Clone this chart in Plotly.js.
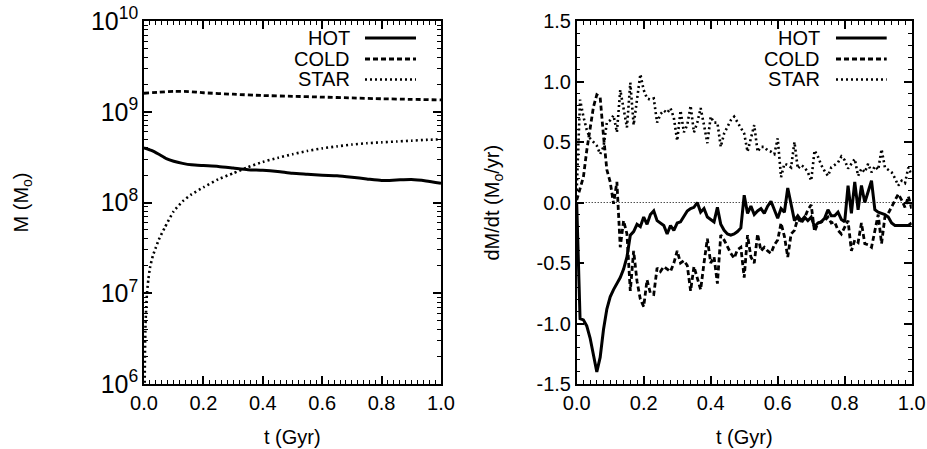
<!DOCTYPE html>
<html>
<head>
<meta charset="utf-8">
<script src="https://cdn.plot.ly/plotly-3.0.1.min.js"></script>
<style>html,body{margin:0;padding:0;background:#fff;}#chart{width:927px;height:449px;}</style>
</head>
<body>
<div id="chart"></div>
<script>
// ---- Left panel: mass vs time (log scale) ----
const tHot = [0, 0.025, 0.05, 0.075, 0.1, 0.13, 0.16, 0.2, 0.25, 0.3, 0.35, 0.4, 0.45, 0.5, 0.55, 0.6, 0.65, 0.7, 0.75, 0.8, 0.85, 0.9, 0.95, 1.0];
const massHot = [4.0e8, 3.75e8, 3.4e8, 3.05e8, 2.85e8, 2.7e8, 2.6e8, 2.55e8, 2.5e8, 2.4e8, 2.3e8, 2.27e8, 2.2e8, 2.1e8, 2.05e8, 2.0e8, 1.97e8, 1.9e8, 1.82e8, 1.75e8, 1.77e8, 1.79e8, 1.73e8, 1.63e8];
const tCold = [0, 0.05, 0.1, 0.15, 0.2, 0.3, 0.4, 0.5, 0.6, 0.7, 0.8, 0.9, 1.0];
const massCold = [1.6e9, 1.64e9, 1.68e9, 1.67e9, 1.62e9, 1.56e9, 1.51e9, 1.48e9, 1.45e9, 1.42e9, 1.39e9, 1.37e9, 1.35e9];
const tStar = [0.002, 0.0035, 0.005, 0.0075, 0.01, 0.015, 0.02, 0.03, 0.04, 0.05, 0.07, 0.1, 0.13, 0.16, 0.2, 0.25, 0.3, 0.35, 0.4, 0.45, 0.5, 0.55, 0.6, 0.65, 0.7, 0.75, 0.8, 0.85, 0.9, 0.95, 1.0];
const massStar = [8e5, 2.5e6, 4.5e6, 7e6, 1.0e7, 1.45e7, 1.9e7, 2.6e7, 3.2e7, 3.9e7, 5.3e7, 8.0e7, 1.03e8, 1.23e8, 1.47e8, 1.8e8, 2.1e8, 2.45e8, 2.8e8, 3.1e8, 3.4e8, 3.7e8, 3.95e8, 4.15e8, 4.35e8, 4.5e8, 4.6e8, 4.7e8, 4.8e8, 4.9e8, 4.97e8];

// ---- Right panel: dM/dt vs time ----
const tRate = [0.00,0.01,0.02,0.03,0.04,0.05,0.06,0.07,0.08,0.09,
  0.10,0.11,0.12,0.13,0.14,0.15,0.16,0.17,0.18,0.19,
  0.20,0.21,0.22,0.23,0.24,0.25,0.26,0.27,0.28,0.29,
  0.30,0.31,0.32,0.33,0.34,0.35,0.36,0.37,0.38,0.39,
  0.40,0.41,0.42,0.43,0.44,0.45,0.46,0.47,0.48,0.49,
  0.50,0.51,0.52,0.53,0.54,0.55,0.56,0.57,0.58,0.59,
  0.60,0.61,0.62,0.63,0.64,0.65,0.66,0.67,0.68,0.69,
  0.70,0.71,0.72,0.73,0.74,0.75,0.76,0.77,0.78,0.79,
  0.80,0.81,0.82,0.83,0.84,0.85,0.86,0.87,0.88,0.89,
  0.90,0.91,0.92,0.93,0.94,0.95,0.96,0.97,0.98,0.99,1.00];
const rateHot = [0.00,-0.96,-0.97,-1.02,-1.12,-1.25,-1.40,-1.28,-1.05,-0.88,
  -0.78,-0.72,-0.67,-0.62,-0.55,-0.45,-0.27,-0.24,-0.18,-0.20,
  -0.12,-0.18,-0.10,-0.07,-0.15,-0.17,-0.19,-0.26,-0.19,-0.23,
  -0.17,-0.16,-0.11,-0.07,-0.05,-0.04,0.00,-0.08,-0.05,-0.12,
  -0.14,-0.16,-0.04,-0.18,-0.23,-0.26,-0.27,-0.26,-0.24,-0.21,
  0.06,-0.09,-0.03,-0.10,-0.07,-0.05,-0.09,-0.03,0.01,-0.06,
  -0.13,-0.05,-0.08,0.12,-0.01,-0.15,-0.11,-0.15,-0.12,-0.15,
  -0.12,-0.20,-0.17,-0.16,-0.13,-0.06,-0.11,-0.11,-0.08,-0.14,
  -0.16,0.14,-0.09,0.17,-0.06,0.14,0.00,0.10,0.18,-0.06,
  -0.08,-0.09,-0.10,-0.12,-0.17,-0.19,-0.19,-0.19,-0.19,-0.19,-0.17];
const rateCold = [0.02,0.12,0.21,0.43,0.62,0.79,0.89,0.87,0.55,0.27,
  0.17,-0.01,0.17,-0.37,-0.15,-0.26,-0.73,-0.40,-0.65,-0.80,
  -0.86,-0.64,-0.75,-0.76,-0.54,-0.57,-0.53,-0.55,-0.57,-0.50,
  -0.40,-0.50,-0.48,-0.52,-0.73,-0.53,-0.62,-0.72,-0.50,-0.30,
  -0.50,-0.45,-0.67,-0.27,-0.31,-0.37,-0.42,-0.46,-0.39,-0.37,
  -0.62,-0.27,-0.45,-0.50,-0.26,-0.40,-0.37,-0.40,-0.42,-0.35,
  -0.31,-0.17,-0.28,-0.45,-0.26,-0.23,-0.13,-0.17,-0.13,-0.06,
  -0.02,-0.24,-0.17,-0.16,-0.15,-0.12,-0.17,-0.16,-0.23,-0.26,
  -0.20,-0.15,-0.40,-0.31,-0.33,-0.17,-0.34,-0.35,-0.37,-0.23,
  -0.10,-0.34,-0.12,-0.09,-0.04,0.02,0.07,0.02,-0.04,0.05,-0.05];
const rateStar = [0.10,0.85,0.71,0.60,0.53,0.50,0.47,0.40,0.46,0.66,
  0.68,0.72,0.58,0.93,0.76,0.62,0.99,0.64,0.85,1.06,
  0.93,0.86,0.85,0.86,0.66,0.73,0.76,0.74,0.78,0.70,
  0.51,0.76,0.58,0.64,0.80,0.58,0.66,0.78,0.64,0.49,
  0.71,0.66,0.66,0.46,0.57,0.62,0.68,0.71,0.66,0.61,
  0.57,0.42,0.54,0.64,0.42,0.46,0.46,0.43,0.42,0.40,
  0.53,0.21,0.32,0.31,0.29,0.50,0.28,0.31,0.29,0.25,
  0.18,0.43,0.38,0.31,0.26,0.22,0.29,0.31,0.33,0.38,
  0.35,0.28,0.32,0.36,0.22,0.28,0.25,0.32,0.25,0.30,
  0.27,0.44,0.29,0.27,0.25,0.20,0.14,0.18,0.16,0.29,0.23];

const seriesNames = ['HOT', 'COLD', 'STAR'];
const xTickLabels = ['0.0', '0.2', '0.4', '0.6', '0.8', '1.0'];
const xTickVals = [0, 0.2, 0.4, 0.6, 0.8, 1.0];
const rateTickVals = [-1.5, -1.0, -0.5, 0, 0.5, 1.0, 1.5];
const rateTickLabels = ['-1.5', '-1.0', '-0.5', '0.0', '0.5', '1.0', '1.5'];

const FONT = 'Liberation Sans, Arial, Helvetica, sans-serif';
const TITLEFONT = {family: FONT, size: 20, color: 'black'};
const styles = [
  {color: 'black', width: 3, dash: 'solid'},
  {color: 'black', width: 2.8, dash: '5px,3px'},
  {color: 'black', width: 2.6, dash: '2px,3px'}
];

const traces = [
  {x: tHot, y: massHot, xaxis: 'x', yaxis: 'y', mode: 'lines', line: Object.assign({shape: 'spline', smoothing: 0.6}, styles[0]), name: seriesNames[0], showlegend: false},
  {x: tCold, y: massCold, xaxis: 'x', yaxis: 'y', mode: 'lines', line: Object.assign({shape: 'spline', smoothing: 0.6}, styles[1]), name: seriesNames[1], showlegend: false},
  {x: tStar, y: massStar, xaxis: 'x', yaxis: 'y', mode: 'lines', line: Object.assign({shape: 'spline', smoothing: 0.5}, styles[2]), name: seriesNames[2], showlegend: false},
  {x: tRate, y: rateHot, xaxis: 'x2', yaxis: 'y2', mode: 'lines', line: styles[0], name: seriesNames[0], showlegend: false},
  {x: tRate, y: rateCold, xaxis: 'x2', yaxis: 'y2', mode: 'lines', line: styles[1], name: seriesNames[1], showlegend: false},
  {x: tRate, y: rateStar, xaxis: 'x2', yaxis: 'y2', mode: 'lines', line: styles[2], name: seriesNames[2], showlegend: false}
];

const W = 927, H = 449;
const yDom = [1 - 384 / H, 1 - 21 / H];

function axisBase() {
  return {
    showline: true, linecolor: 'black', linewidth: 1.5, mirror: 'allticks',
    ticks: 'inside', ticklen: 8, tickwidth: 1.5, tickcolor: 'black',
    showgrid: false, zeroline: false,
    tickfont: {family: FONT, size: 20, color: 'black'}
  };
}
function minorStyle(dt) {
  return {dtick: dt, ticks: 'inside', ticklen: 4, tickcolor: 'black', tickwidth: 1.2};
}

const layout = {
  width: W, height: H,
  margin: {l: 0, r: 0, t: 0, b: 0},
  paper_bgcolor: 'white', plot_bgcolor: 'white',
  showlegend: false,
  xaxis: Object.assign(axisBase(), {
    domain: [144 / W, 441 / W], anchor: 'y', range: [0, 1],
    tickvals: xTickVals, ticktext: xTickLabels, tickmode: 'array',
    minor: minorStyle(0.02)
  }),
  xaxis2: Object.assign(axisBase(), {
    domain: [576.7 / W, 911.7 / W], anchor: 'y2', range: [0, 1],
    tickvals: xTickVals, ticktext: xTickLabels, tickmode: 'array',
    minor: minorStyle(0.02)
  }),
  yaxis: Object.assign(axisBase(), {
    domain: yDom, anchor: 'x', type: 'log', range: [6, 10],
    dtick: 1, exponentformat: 'power',
    minor: minorStyle('D1')
  }),
  yaxis2: Object.assign(axisBase(), {
    domain: yDom, anchor: 'x2', range: [-1.5, 1.5],
    tickvals: rateTickVals, ticktext: rateTickLabels, tickmode: 'array',
    minor: minorStyle(0.1)
  }),
  shapes: [
    {type: 'line', xref: 'x2', yref: 'y2', x0: 0, x1: 1, y0: 0, y1: 0, line: {color: 'black', width: 1, dash: '1px,2px'}}
  ],
  annotations: [
    {xref: 'paper', yref: 'paper', x: 292.5 / W, y: 1 - 437 / H, xanchor: 'center', yanchor: 'middle', showarrow: false, text: 't (Gyr)', font: TITLEFONT},
    {xref: 'paper', yref: 'paper', x: 744.2 / W, y: 1 - 437 / H, xanchor: 'center', yanchor: 'middle', showarrow: false, text: 't (Gyr)', font: TITLEFONT},
    {xref: 'paper', yref: 'paper', x: 22 / W, y: 1 - 202.5 / H, xanchor: 'center', yanchor: 'middle', showarrow: false, textangle: -90, text: 'M (M<sub>o</sub>)', font: TITLEFONT},
    {xref: 'paper', yref: 'paper', x: 493 / W, y: 1 - 202.5 / H, xanchor: 'center', yanchor: 'middle', showarrow: false, textangle: -90, text: 'dM/dt (M<sub>o</sub>/yr)', font: TITLEFONT}
  ]
};

// manual legends (text right-aligned, key sample on the right)
const legendRows = [1 - 38 / H, 1 - 59 / H, 1 - 79.5 / H];
const panels = [
  {textRight: 351.7 / W, k0: 365 / W, k1: 416 / W},
  {textRight: 821.7 / W, k0: 836 / W, k1: 886.7 / W}
];
panels.forEach(function (p) {
  seriesNames.forEach(function (nm, i) {
    layout.annotations.push({
      xref: 'paper', yref: 'paper', x: p.textRight, y: legendRows[i],
      xanchor: 'right', yanchor: 'middle', showarrow: false,
      text: nm, font: TITLEFONT
    });
    layout.shapes.push({
      type: 'line', xref: 'paper', yref: 'paper', x0: p.k0, x1: p.k1, y0: legendRows[i], y1: legendRows[i],
      line: styles[i]
    });
  });
});

Plotly.newPlot('chart', traces, layout, {displayModeBar: false});
</script>
</body>
</html>
